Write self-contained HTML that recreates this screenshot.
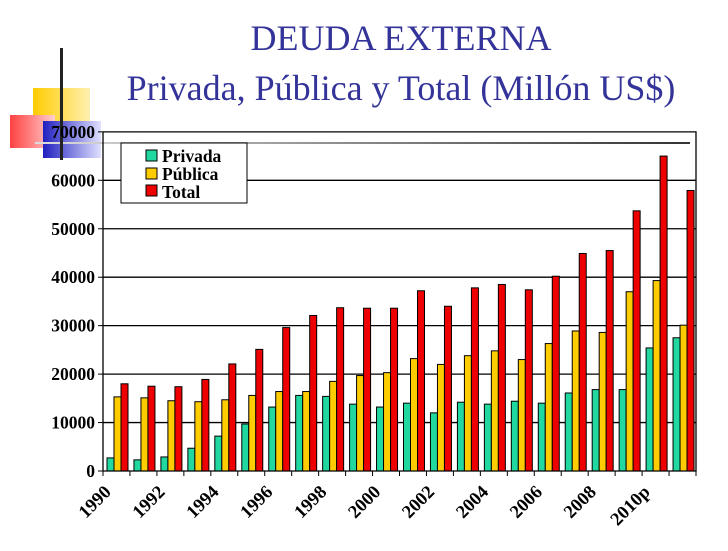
<!DOCTYPE html>
<html><head><meta charset="utf-8"><style>
body{margin:0;width:728px;height:546px;background:#fff;overflow:hidden;font-family:"Liberation Serif",serif}
</style></head><body>
<svg width="728" height="546">
<defs>
<linearGradient id="gy" x1="0" x2="1"><stop offset="0" stop-color="#ffcc00"/><stop offset="1" stop-color="#fff0b0"/></linearGradient>
<linearGradient id="gr" x1="0" x2="1"><stop offset="0" stop-color="#ff4040"/><stop offset="1" stop-color="#ffd0d0"/></linearGradient>
<linearGradient id="gb" x1="0" x2="1"><stop offset="0" stop-color="#2020c0"/><stop offset="1" stop-color="#e0e0ff"/></linearGradient>
<linearGradient id="gl" x1="0" x2="1"><stop offset="0" stop-color="#ddd"/><stop offset="1" stop-color="#333"/></linearGradient>
</defs>
<g>
<rect x="33" y="88" width="57" height="52" fill="url(#gy)"/>
<rect x="10" y="115" width="45" height="33" fill="url(#gr)"/>
<rect x="43" y="121" width="58" height="37" fill="url(#gb)"/>
<rect x="35" y="142" width="655" height="2" fill="url(#gl)"/>
<rect x="60" y="48" width="3" height="112" fill="#222"/>
</g>
<text x="401" y="50" text-anchor="middle" font-size="36" fill="#333399">DEUDA EXTERNA</text>
<text x="401" y="100" text-anchor="middle" font-size="36" fill="#333399">Privada, Pública y Total (Millón US$)</text>
<g id="plot"></g>
<g>
<rect x="121" y="143" width="126" height="60" fill="#fff" stroke="#000"/>
<rect x="146" y="150" width="11" height="11" fill="#20d8a0" stroke="#000"/><text x="162" y="162" font-size="17.5" font-weight="bold">Privada</text>
<rect x="146" y="168" width="11" height="11" fill="#ffcc00" stroke="#000"/><text x="162" y="180" font-size="17.5" font-weight="bold">Pública</text>
<rect x="146" y="185" width="11" height="11" fill="#ee0000" stroke="#000"/><text x="162" y="198" font-size="17.5" font-weight="bold">Total</text>
</g>
</svg>
<script>
const categories=["1990","1991","1992","1993","1994","1995","1996","1997","1998","1999","2000","2001","2002","2003","2004","2005","2006","2007","2008","2009","2010p","2011"];
const labelShown=["1990","","1992","","1994","","1996","","1998","","2000","","2002","","2004","","2006","","2008","","2010p",""];
const privada=[2700,2300,2900,4700,7200,9700,13200,15600,15400,13800,13200,14000,12000,14200,13800,14400,14000,16100,16800,16800,25400,27500];
const publica=[15300,15100,14500,14300,14700,15600,16400,16400,18500,19700,20300,23200,22000,23800,24800,23000,26300,28900,28600,37000,39300,30100];
const total=[18000,17500,17400,18900,22100,25100,29600,32100,33700,33600,33600,37200,34000,37800,38500,37400,40200,44900,45500,53700,65000,57900];
const yTicks=[0,10000,20000,30000,40000,50000,60000,70000];
const NS="http://www.w3.org/2000/svg";
const g=document.getElementById('plot');
const X0=103,X1=696,Y0=471,PX=48.45/10000;
const gw=(X1-X0)/categories.length;
const y=v=>Y0-v*PX;
function el(t,a){const e=document.createElementNS(NS,t);for(const k in a)e.setAttribute(k,a[k]);g.appendChild(e);return e;}
yTicks.forEach(v=>{
 if(v>0&&v<70000){const l=el('line',{x1:X0,x2:X1,y1:y(v),y2:y(v),stroke:'#000','stroke-width':1.3});
 
 }
 const t=el('line',{x1:X0-5,x2:X0,y1:y(v),y2:y(v),stroke:'#000'});
 
 
 const tx=el('text',{x:X0-8,y:y(v)+6,'text-anchor':'end','font-size':17.5,'font-weight':'bold'});tx.textContent=v;
 
 
});
const series=[[privada,'#20d8a0','privada'],[publica,'#ffcc00','publica'],[total,'#ee0000','total']];
categories.forEach((c,i)=>{
 const gx=X0+i*gw;
 series.forEach((s,j)=>{
  const v=s[0][i];const r=el('rect',{x:gx+4+j*7,y:y(v),width:7,height:v*PX,fill:s[1],stroke:'#000','stroke-width':1});
  
  
 });
 const t=el('line',{x1:gx,x2:gx,y1:Y0,y2:Y0+5,stroke:'#000'});
 
 
 if(labelShown[i]){const lx=gx+9,ly=Y0+22;
  const tx=el('text',{x:lx,y:ly,'text-anchor':'end','font-size':18.5,'font-weight':'bold',transform:`rotate(-45 ${lx} ${ly})`});tx.textContent=labelShown[i];
  
  }
});
const ax=el('path',{d:`M${X0} ${y(70000)}V${Y0}H${X1}V${y(70000)}H${X0}`,fill:'none',stroke:'#000','stroke-width':1.3});


const e2=el('line',{x1:X1,x2:X1,y1:Y0,y2:Y0+5,stroke:'#000'});


</script>
</body></html>
